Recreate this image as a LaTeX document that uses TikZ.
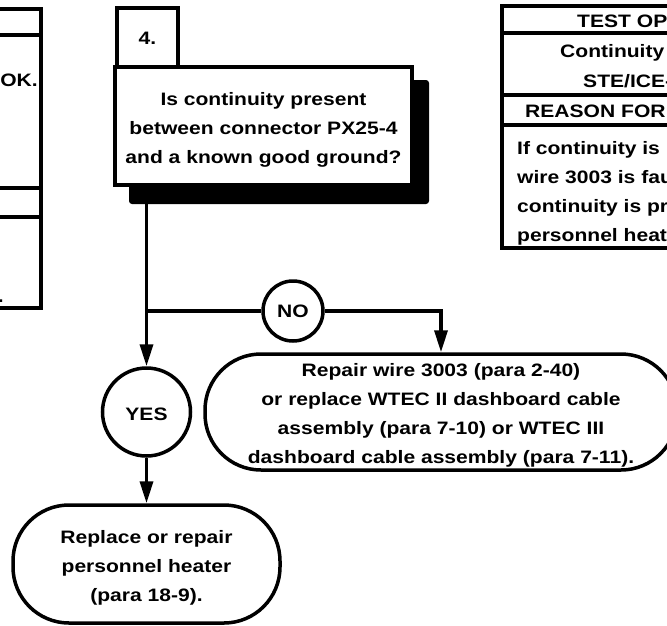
\documentclass[tikz,border=0pt]{standalone}
\usepackage{fontspec}
\setmainfont{Liberation Sans}[FakeStretch=1.17]
\usetikzlibrary{arrows.meta}
\begin{document}
\begin{tikzpicture}[x=1pt,y=-1pt,
  txt/.style={font=\bfseries\fontsize{18}{29}\selectfont, align=center, inner sep=0pt},
  conn/.style={line width=3.5pt},
  arr/.style={conn, -{Triangle[length=22pt,width=13pt]}},
  tbl/.style={line width=4pt},
  boxframe/.style={draw, line width=4pt, fill=white, txt},
  stadium/.style={draw, line width=3.5pt, rounded corners=56pt, fill=white, txt},
  roundnode/.style={circle, draw, line width=3.5pt, fill=white, txt}]
\useasboundingbox (0,0) rectangle (667,625);
\clip (0,0) rectangle (667,625);
\fill[white] (0,0) rectangle (667,625);

% left partial table
\draw[tbl] (-10,9) -| (41,308) -- (-10,308);
\draw[tbl] (-10,35) -- (41,35);
\draw[tbl] (-10,188) -- (41,188);
\draw[tbl] (-10,217) -- (41,217);
\node[txt, anchor=east] (ok) at (38,80) {OK.};
\node[txt, anchor=east] (dot) at (4,301) {.};

% step 4
\node[boxframe, minimum width=61pt, minimum height=61pt, anchor=north west] (num) at (115,6) {4.};
\fill[rounded corners=3pt] (129,80) rectangle (429,204);
\node[boxframe, minimum width=297pt, minimum height=118pt] (q) at (263.5,126) {};
\node[txt] (qt) at ([yshift=-4pt]q.center)
  {Is continuity present\\between connector PX25-4\\and a known good ground?};

% right partial table
\draw[tbl] (680,6) -| (502,248) -- (680,248);
\draw[tbl] (502,33) -- (680,33);
\draw[tbl] (502,95) -- (680,95);
\draw[tbl] (502,125) -- (680,125);
\node[txt, anchor=base west] (t1) at (577,27) {TEST OPT};
\node[txt, anchor=base west] (t2) at (560,57) {Continuity};
\node[txt, anchor=base west] (t3) at (583,87) {STE/ICE-};
\node[txt, anchor=base west] (t4) at (525,117) {REASON FOR};
\node[txt, anchor=base west] (t5) at (517,154) {If continuity is n};
\node[txt, anchor=base west] (t6) at (517,183) {wire 3003 is fau};
\node[txt, anchor=base west] (t7) at (517,212) {continuity is pr};
\node[txt, anchor=base west] (t8) at (517,241) {personnel heat};

% flow
\node[roundnode, minimum size=88pt] (yes) at (146.5,412) {};
\node[txt] (yest) at ([yshift=-2pt]yes.center) {YES};
\node[roundnode, minimum size=60pt] (no) at (293,311) {NO};
\node[stadium, minimum width=472pt, minimum height=116pt] (rep) at (441,412) {};
\node[txt] (rept) at ([yshift=-3pt]rep.center)
  {Repair wire 3003 (para 2-40)\\or replace WTEC II dashboard cable\\assembly (para 7-10) or WTEC III\\dashboard cable assembly (para 7-11).};
\node[stadium, minimum width=267pt, minimum height=118pt] (repl) at (146.5,564) {};
\node[txt] (replt) at ([yshift=-4pt]repl.center)
  {Replace or repair\\personnel heater\\(para 18-9).};

\coordinate (s) at (146.5,204);
\coordinate (j) at (146.5,311);
\draw[arr] (s) -- (yes.north);
\draw[conn] (j) -- (no.west);
\draw[arr] (no.east) -| (rep.north);
\draw[arr] (yes.south) -- (repl.north);
\end{tikzpicture}
\end{document}
